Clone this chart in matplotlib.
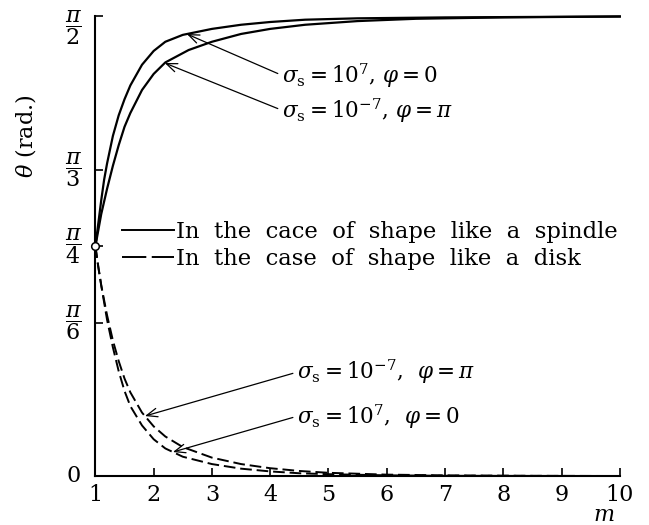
import numpy as np
import matplotlib
matplotlib.use("Agg")
import matplotlib.pyplot as plt
from matplotlib.lines import Line2D
from matplotlib.transforms import ScaledTranslation

#################
#### Datos ######
#################
# theta en unidades de pi/2, leido de cada curva
m_huso_a = [1.0, 1.05, 1.1, 1.15, 1.2, 1.3, 1.4, 1.5, 1.6, 1.8, 2.0, 2.2, 2.5,
            3.0, 3.5, 4.0, 4.6, 5.5, 7.0, 8.5, 10.0]
th_huso_a = [0.500, 0.550, 0.600, 0.645, 0.680, 0.740, 0.785, 0.820, 0.850, 0.895,
             0.925, 0.945, 0.960, 0.973, 0.982, 0.988, 0.993, 0.996, 0.998, 0.999, 1.0]

m_huso_b = [1.0, 1.05, 1.1, 1.2, 1.3, 1.4, 1.5, 1.6, 1.8, 2.0, 2.2, 2.6, 3.0,
            3.5, 4.0, 4.6, 5.5, 6.5, 8.0, 10.0]
th_huso_b = [0.500, 0.535, 0.570, 0.625, 0.675, 0.720, 0.760, 0.790, 0.840, 0.875,
             0.900, 0.927, 0.945, 0.962, 0.973, 0.982, 0.990, 0.995, 0.998, 1.0]

m_disco_b = [1.0, 1.05, 1.1, 1.2, 1.3, 1.4, 1.5, 1.6, 1.8, 2.0, 2.2, 2.5, 3.0,
             3.5, 4.0, 4.5, 5.0, 6.0, 7.0, 8.5, 10.0]
th_disco_b = [0.500, 0.455, 0.415, 0.350, 0.295, 0.250, 0.212, 0.182, 0.138, 0.108,
              0.086, 0.063, 0.040, 0.026, 0.017, 0.011, 0.007, 0.003, 0.0015, 0.0005, 0.0]

m_disco_a = [1.0, 1.05, 1.1, 1.2, 1.3, 1.4, 1.5, 1.6, 1.8, 2.0, 2.2, 2.5, 3.0,
             3.5, 4.0, 4.5, 5.0, 6.0, 7.0, 8.5, 10.0]
th_disco_a = [0.500, 0.455, 0.415, 0.340, 0.280, 0.228, 0.185, 0.152, 0.110, 0.080,
              0.060, 0.042, 0.026, 0.016, 0.010, 0.006, 0.004, 0.0015, 0.0005, 0.0002, 0.0]

ticks_x = [1, 2, 3, 4, 5, 6, 7, 8, 9, 10]
ticks_y = [0, np.pi / 6, np.pi / 4, np.pi / 3, np.pi / 2]
etiquetas_y = ["0", r"$\dfrac{\pi}{6}$", r"$\dfrac{\pi}{4}$", r"$\dfrac{\pi}{3}$", r"$\dfrac{\pi}{2}$"]

leyenda = ["In  the  cace  of  shape  like  a  spindle", "In  the  case  of  shape  like  a  disk"]

txt_a = r"$\sigma_{\rm s}=10^{7}$, $\varphi=0$"
txt_b = r"$\sigma_{\rm s}=10^{-7}$, $\varphi=\pi$"
txt_a2 = r"$\sigma_{\rm s}=10^{7}$,  $\varphi=0$"
txt_b2 = r"$\sigma_{\rm s}=10^{-7}$,  $\varphi=\pi$"

#################
#### Estilo #####
#################
plt.rcParams["font.family"] = ["DejaVu Serif"]
plt.rcParams["mathtext.fontset"] = "dejavuserif"

def rad(th):
    return np.array(th) * np.pi / 2

fig = plt.figure(figsize=(6.49, 5.25), dpi=100)
ax = fig.add_axes([0.147, 0.0933, 0.808, 0.8753])

lw = 1.6
ax.plot(m_huso_a, rad(th_huso_a), color="black", lw=lw, clip_on=False)
ax.plot(m_huso_b, rad(th_huso_b), color="black", lw=lw, clip_on=False)
ax.plot(m_disco_a, rad(th_disco_a), color="black", lw=1.4, dashes=(6, 2.5), clip_on=False)
ax.plot(m_disco_b, rad(th_disco_b), color="black", lw=1.4, dashes=(6, 2.5), clip_on=False)
# punto comun de partida
ax.plot(m_huso_a[0], rad(th_huso_a)[0], "o", ms=5.5, mfc="white", mec="black", mew=1.1,
        zorder=5, clip_on=False)

ax.set_xlim(1, 10)
ax.set_ylim(0, np.pi / 2)
for lado in ["top", "right"]:
    ax.spines[lado].set_visible(False)
for lado in ["left", "bottom"]:
    ax.spines[lado].set_linewidth(1.5)

ax.set_xticks(ticks_x)
ax.set_yticks(ticks_y)
ax.set_yticklabels(etiquetas_y)
ax.tick_params(axis="both", direction="in", length=6, width=1.2, labelsize=16)
ax.tick_params(axis="x", pad=6)
ax.tick_params(axis="y", pad=16)
for t in ax.get_yticklabels():
    t.set_horizontalalignment("center")
    t.set_verticalalignment("center")
# la fraccion de arriba baja un poco para que no se corte
arriba = ax.get_yticklabels()[-1]
arriba.set_transform(arriba.get_transform() + ScaledTranslation(0, -8 / 72, fig.dpi_scale_trans))

ax.set_xlabel(r"$m$", fontsize=16)
ax.xaxis.set_label_coords(0.97, -0.06)
ax.set_ylabel(r"$\theta$ (rad.)", fontsize=16)
ax.yaxis.set_label_coords(-0.11, 0.74)

#################
#### Leyenda ####
#################
manejadores = [Line2D([], [], color="black", lw=1.4),
               Line2D([], [], color="black", lw=1.4, dashes=(12.5, 2.8))]
ax.legend(manejadores, leyenda,
          loc="center left", bbox_to_anchor=(0.05, 0.502), frameon=False, fontsize=16.3,
          handlelength=2.3, handletextpad=0.1, labelspacing=0.25, borderpad=0, borderaxespad=0)

#################
#### Flechas ####
#################
flecha = dict(arrowstyle="->,head_length=0.5,head_width=0.2", lw=0.9, color="black",
              shrinkA=1, shrinkB=0, relpos=(0, 0.5))

def anotar(texto, m_obj, m_curva, th_curva, xt, yt):
    yo = np.interp(m_obj, m_curva, rad(th_curva))
    ax.annotate(texto, xy=(m_obj, yo), xytext=(xt, yt), fontsize=15.5,
                ha="left", va="center", arrowprops=flecha)

anotar(txt_a, 2.57, m_huso_a, th_huso_a, 4.2, rad(0.872))
anotar(txt_b, 2.19, m_huso_b, th_huso_b, 4.2, rad(0.796))
anotar(txt_b2, 1.85, m_disco_b, th_disco_b, 4.46, rad(0.226))
anotar(txt_a2, 2.33, m_disco_a, th_disco_a, 4.46, rad(0.13))

plt.savefig("out.png", dpi=100)
plt.close()
